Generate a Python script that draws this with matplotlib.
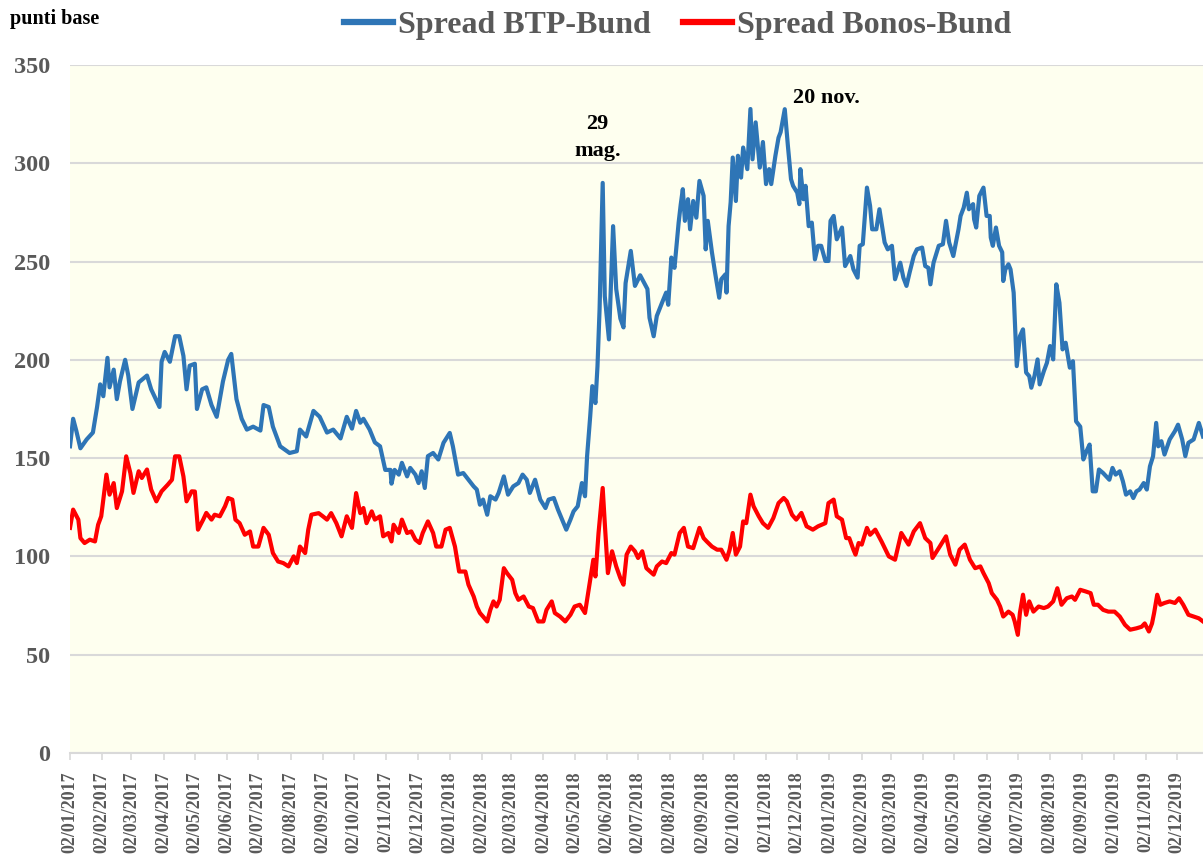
import pandas as pd
import matplotlib
matplotlib.use("Agg")
import matplotlib.pyplot as plt
import matplotlib.dates as mdates

# --- dati (punti base) ---
btp_dates = [
    "2017-01-02", "2017-01-05", "2017-01-08", "2017-01-12", "2017-01-18", "2017-01-24", "2017-01-28", "2017-01-31",
    "2017-02-03", "2017-02-07", "2017-02-09", "2017-02-13", "2017-02-16", "2017-02-19", "2017-02-24", "2017-02-27",
    "2017-03-03", "2017-03-09", "2017-03-17", "2017-03-21", "2017-03-29", "2017-03-31", "2017-04-03", "2017-04-08",
    "2017-04-13", "2017-04-17", "2017-04-21", "2017-04-24", "2017-04-27", "2017-05-02", "2017-05-04", "2017-05-09",
    "2017-05-13", "2017-05-18", "2017-05-23", "2017-05-29", "2017-06-03", "2017-06-06", "2017-06-11", "2017-06-16",
    "2017-06-21", "2017-06-27", "2017-07-04", "2017-07-07", "2017-07-12", "2017-07-16", "2017-07-23", "2017-08-01",
    "2017-08-08", "2017-08-11", "2017-08-17", "2017-08-24", "2017-08-30", "2017-09-06", "2017-09-12", "2017-09-19",
    "2017-09-25", "2017-09-30", "2017-10-04", "2017-10-08", "2017-10-11", "2017-10-17", "2017-10-22", "2017-10-27",
    "2017-11-01", "2017-11-06", "2017-11-07", "2017-11-10", "2017-11-14", "2017-11-17", "2017-11-22", "2017-11-25",
    "2017-11-30", "2017-12-03", "2017-12-06", "2017-12-09", "2017-12-12", "2017-12-17", "2017-12-22", "2017-12-27",
    "2018-01-02", "2018-01-05", "2018-01-10", "2018-01-15", "2018-01-20", "2018-01-25", "2018-01-28", "2018-01-31",
    "2018-02-03", "2018-02-07", "2018-02-10", "2018-02-15", "2018-02-18", "2018-02-23", "2018-02-27", "2018-03-04",
    "2018-03-09", "2018-03-13", "2018-03-17", "2018-03-20", "2018-03-25", "2018-03-30", "2018-04-04", "2018-04-07",
    "2018-04-12", "2018-04-16", "2018-04-20", "2018-04-24", "2018-04-28", "2018-05-01", "2018-05-05", "2018-05-09",
    "2018-05-12", "2018-05-14", "2018-05-17", "2018-05-19", "2018-05-22", "2018-05-24", "2018-05-26", "2018-05-29",
    "2018-05-31", "2018-06-04", "2018-06-08", "2018-06-11", "2018-06-15", "2018-06-18", "2018-06-20", "2018-06-25",
    "2018-06-29", "2018-07-04", "2018-07-11", "2018-07-13", "2018-07-17", "2018-07-20", "2018-07-25", "2018-07-29",
    "2018-07-31", "2018-08-03", "2018-08-06", "2018-08-10", "2018-08-12", "2018-08-14", "2018-08-16", "2018-08-19",
    "2018-08-21", "2018-08-24", "2018-08-27", "2018-08-30", "2018-09-03", "2018-09-05", "2018-09-07", "2018-09-11",
    "2018-09-14", "2018-09-18", "2018-09-20", "2018-09-24", "2018-09-25", "2018-09-27", "2018-09-29", "2018-10-01",
    "2018-10-04", "2018-10-06", "2018-10-09", "2018-10-11", "2018-10-15", "2018-10-18", "2018-10-20", "2018-10-23",
    "2018-10-27", "2018-10-30", "2018-11-02", "2018-11-05", "2018-11-07", "2018-11-11", "2018-11-14", "2018-11-16",
    "2018-11-20", "2018-11-23", "2018-11-26", "2018-11-28", "2018-12-02", "2018-12-04", "2018-12-05", "2018-12-08",
    "2018-12-10", "2018-12-13", "2018-12-16", "2018-12-19", "2018-12-22", "2018-12-25", "2018-12-29", "2019-01-01",
    "2019-01-03", "2019-01-06", "2019-01-09", "2019-01-14", "2019-01-17", "2019-01-22", "2019-01-25", "2019-01-29",
    "2019-01-31", "2019-02-03", "2019-02-07", "2019-02-10", "2019-02-12", "2019-02-16", "2019-02-19", "2019-02-24",
    "2019-02-27", "2019-03-03", "2019-03-06", "2019-03-11", "2019-03-14", "2019-03-17", "2019-03-20", "2019-03-24",
    "2019-03-27", "2019-04-01", "2019-04-04", "2019-04-07", "2019-04-09", "2019-04-12", "2019-04-17", "2019-04-21",
    "2019-04-24", "2019-04-27", "2019-05-01", "2019-05-06", "2019-05-08", "2019-05-11", "2019-05-14", "2019-05-16",
    "2019-05-20", "2019-05-21", "2019-05-23", "2019-05-26", "2019-05-30", "2019-06-02", "2019-06-05", "2019-06-06",
    "2019-06-08", "2019-06-11", "2019-06-14", "2019-06-17", "2019-06-18", "2019-06-20", "2019-06-23", "2019-06-25",
    "2019-06-28", "2019-07-01", "2019-07-04", "2019-07-07", "2019-07-10", "2019-07-13", "2019-07-15", "2019-07-18",
    "2019-07-21", "2019-07-23", "2019-07-27", "2019-07-30", "2019-08-02", "2019-08-05", "2019-08-08", "2019-08-11",
    "2019-08-14", "2019-08-17", "2019-08-21", "2019-08-24", "2019-08-27", "2019-08-31", "2019-09-03", "2019-09-06",
    "2019-09-09", "2019-09-12", "2019-09-15", "2019-09-18", "2019-09-22", "2019-09-25", "2019-09-28", "2019-10-01",
    "2019-10-04", "2019-10-08", "2019-10-11", "2019-10-14", "2019-10-18", "2019-10-21", "2019-10-24", "2019-10-27",
    "2019-10-31", "2019-11-03", "2019-11-06", "2019-11-09", "2019-11-12", "2019-11-14", "2019-11-17", "2019-11-20",
    "2019-11-25", "2019-11-30", "2019-12-03", "2019-12-07", "2019-12-10", "2019-12-13", "2019-12-18", "2019-12-23",
    "2019-12-27",
]
btp_values = [
    156, 170, 164, 155, 159.5, 163, 176, 187.5,
    181.5, 201, 186, 195, 180, 189, 200, 192,
    175, 188.5, 192, 185, 176, 199, 204, 199,
    212, 212, 202, 185, 197, 198, 175, 185,
    186, 177, 171, 189, 200, 203, 180, 170,
    164.5, 166, 164, 177, 176, 166, 156, 152.6,
    153.5, 164.5, 161, 174, 171, 163, 164.5, 160,
    171, 165, 174, 168, 170, 164.5, 158, 156,
    144, 144, 137, 144, 141.6, 147.6, 140.7, 145,
    141.6, 137.3, 143.3, 134.8, 151, 152.6, 149.3, 157.8,
    162.8, 156, 141.6, 142.4, 139, 135.6, 134, 126.3,
    128.9, 121.2, 130.6, 128.9, 132.3, 140.7, 131.4, 135.6,
    137.3, 141.6, 139, 132.3, 139, 128.9, 124.6, 128.9,
    129.7, 123.8, 118.7, 113.6, 118.7, 122.9, 125.5, 137.3,
    130.6, 151, 171.3, 186.6, 178, 196.8, 225.7, 290,
    232.4, 210.4, 268, 236, 221, 216.5, 239, 255.4,
    237.6, 243, 236, 221.4, 212, 222.3, 229, 234.2,
    228, 252, 246.8, 269.8, 279, 286.8, 270.7, 281.7,
    266.4, 280.8, 272.3, 291, 283.4, 256.2, 270.7, 254.7,
    244.4, 231.6, 241, 243.5, 234.2, 268, 280.2, 302.9,
    280.8, 303.8, 292.7, 308, 297, 327.6, 302, 320.8,
    297.8, 310.8, 289.4, 297, 289.4, 303.8, 313, 315.8,
    327.5, 308.9, 291.9, 288.5, 285, 279.2, 297, 281.7,
    288.5, 268, 269.8, 251.1, 258, 258, 250.3, 250.3,
    270.7, 273.2, 261.3, 267.3, 247.7, 252.8, 246, 241.8,
    258, 258.8, 287.6, 278.3, 266.4, 266.4, 276.6, 259.7,
    256.2, 258, 241, 249.4, 241.8, 237.6, 244.4, 252.8,
    256.2, 257.1, 247.7, 246.8, 238.4, 249.4, 258, 258.8,
    270.7, 259.7, 252.8, 266.4, 273.2, 277.4, 285, 276.6,
    279.2, 271.5, 267.3, 283.4, 287.6, 273.2, 273.2, 262.2,
    258, 267.3, 258, 254.7, 240.1, 246, 248.6, 246,
    234.2, 196.8, 212, 215.5, 193.5, 191.7, 185.8, 191.7,
    200.2, 187.5, 194.2, 198.5, 207, 200.2, 238.4, 229,
    205.3, 208.7, 196, 199.3, 168.7, 166, 149.3, 153.5,
    156.9, 133.1, 133.1, 144.2, 142.4, 140.7, 139, 145,
    141.6, 143.3, 138.2, 131.4, 133.1, 129.7, 133.1, 134,
    137.3, 134, 145.8, 150.9, 167.9, 156, 158.6, 151.8,
    159.5, 163.7, 167, 159.5, 151, 157.8, 159.5, 167.9,
    161,
]

bonos_dates = [
    "2017-01-02", "2017-01-05", "2017-01-10", "2017-01-12", "2017-01-16", "2017-01-21", "2017-01-26", "2017-01-29",
    "2017-02-01", "2017-02-06", "2017-02-09", "2017-02-13", "2017-02-16", "2017-02-21", "2017-02-25", "2017-03-01",
    "2017-03-04", "2017-03-09", "2017-03-12", "2017-03-17", "2017-03-21", "2017-03-26", "2017-03-31", "2017-04-06",
    "2017-04-10", "2017-04-13", "2017-04-17", "2017-04-21", "2017-04-24", "2017-04-29", "2017-05-02", "2017-05-05",
    "2017-05-10", "2017-05-13", "2017-05-18", "2017-05-21", "2017-05-26", "2017-05-31", "2017-06-03", "2017-06-07",
    "2017-06-10", "2017-06-14", "2017-06-19", "2017-06-24", "2017-06-27", "2017-07-02", "2017-07-07", "2017-07-12",
    "2017-07-16", "2017-07-21", "2017-07-26", "2017-07-31", "2017-08-05", "2017-08-08", "2017-08-11", "2017-08-16",
    "2017-08-19", "2017-08-22", "2017-08-29", "2017-09-02", "2017-09-06", "2017-09-10", "2017-09-15", "2017-09-20",
    "2017-09-25", "2017-09-30", "2017-10-04", "2017-10-08", "2017-10-11", "2017-10-14", "2017-10-19", "2017-10-22",
    "2017-10-27", "2017-10-30", "2017-11-04", "2017-11-07", "2017-11-09", "2017-11-14", "2017-11-17", "2017-11-22",
    "2017-11-26", "2017-11-30", "2017-12-04", "2017-12-07", "2017-12-12", "2017-12-17", "2017-12-20", "2017-12-25",
    "2017-12-29", "2018-01-02", "2018-01-07", "2018-01-11", "2018-01-17", "2018-01-20", "2018-01-25", "2018-01-28",
    "2018-01-31", "2018-02-03", "2018-02-07", "2018-02-10", "2018-02-13", "2018-02-16", "2018-02-19", "2018-02-23",
    "2018-02-26", "2018-03-03", "2018-03-06", "2018-03-09", "2018-03-14", "2018-03-19", "2018-03-23", "2018-03-28",
    "2018-04-02", "2018-04-05", "2018-04-10", "2018-04-13", "2018-04-18", "2018-04-23", "2018-04-28", "2018-05-02",
    "2018-05-07", "2018-05-12", "2018-05-15", "2018-05-18", "2018-05-20", "2018-05-22", "2018-05-25", "2018-05-29",
    "2018-05-31", "2018-06-03", "2018-06-07", "2018-06-11", "2018-06-15", "2018-06-18", "2018-06-21", "2018-06-25",
    "2018-06-29", "2018-07-02", "2018-07-06", "2018-07-10", "2018-07-17", "2018-07-20", "2018-07-25", "2018-07-29",
    "2018-08-03", "2018-08-06", "2018-08-11", "2018-08-15", "2018-08-19", "2018-08-24", "2018-08-30", "2018-09-03",
    "2018-09-06", "2018-09-11", "2018-09-16", "2018-09-20", "2018-09-25", "2018-09-28", "2018-10-01", "2018-10-04",
    "2018-10-08", "2018-10-11", "2018-10-14", "2018-10-18", "2018-10-21", "2018-10-26", "2018-10-30", "2018-11-04",
    "2018-11-09", "2018-11-14", "2018-11-19", "2018-11-22", "2018-11-27", "2018-12-01", "2018-12-06", "2018-12-11",
    "2018-12-17", "2018-12-22", "2018-12-29", "2019-01-01", "2019-01-06", "2019-01-09", "2019-01-14", "2019-01-18",
    "2019-01-21", "2019-01-25", "2019-01-27", "2019-01-30", "2019-02-02", "2019-02-07", "2019-02-10", "2019-02-15",
    "2019-02-21", "2019-02-28", "2019-03-06", "2019-03-12", "2019-03-19", "2019-03-24", "2019-03-30", "2019-04-04",
    "2019-04-09", "2019-04-11", "2019-04-17", "2019-04-24", "2019-04-28", "2019-05-03", "2019-05-07", "2019-05-12",
    "2019-05-17", "2019-05-22", "2019-05-27", "2019-05-30", "2019-06-04", "2019-06-07", "2019-06-12", "2019-06-15",
    "2019-06-18", "2019-06-23", "2019-06-27", "2019-06-29", "2019-07-02", "2019-07-04", "2019-07-07", "2019-07-10",
    "2019-07-13", "2019-07-17", "2019-07-22", "2019-07-27", "2019-07-31", "2019-08-05", "2019-08-09", "2019-08-13",
    "2019-08-18", "2019-08-23", "2019-08-26", "2019-08-31", "2019-09-05", "2019-09-10", "2019-09-13", "2019-09-17",
    "2019-09-22", "2019-09-27", "2019-10-03", "2019-10-08", "2019-10-13", "2019-10-18", "2019-10-24", "2019-10-29",
    "2019-11-01", "2019-11-05", "2019-11-08", "2019-11-10", "2019-11-13", "2019-11-16", "2019-11-20", "2019-11-25",
    "2019-11-30", "2019-12-04", "2019-12-08", "2019-12-13", "2019-12-18", "2019-12-23", "2019-12-27",
]
bonos_values = [
    114.5, 123.8, 118.7, 109.3, 106.8, 108.5, 107.6, 116.1,
    120.4, 141.6, 131.4, 137.3, 124.6, 133.1, 150.9, 142.4,
    132.3, 143.3, 139.9, 144.2, 134, 128, 133.1, 136.5,
    139, 150.9, 150.9, 140.7, 128, 133.1, 133, 113.6,
    118.7, 122.1, 118.7, 121.2, 120.4, 125.5, 129.7, 128.9,
    118.7, 116.9, 111, 112.7, 105, 105, 114.5, 111,
    101.7, 97.4, 96.6, 94.9, 100, 96.6, 105, 101.7,
    113.6, 121.2, 122, 120.4, 118.7, 122, 116.9, 110.2,
    120.4, 114.5, 132.2, 122, 124.6, 116.9, 122.9, 118.7,
    120.4, 110.2, 111.9, 107.6, 116.1, 111.9, 118.7, 111.9,
    112.7, 108.5, 106.8, 111.9, 117.8, 111.9, 105, 105,
    113.6, 114.5, 105, 92.3, 92.3, 85.6, 79.6, 74.5,
    71.2, 69.4, 66.9, 72.8, 77.1, 74.5, 77.9, 94,
    91.5, 88.1, 81.3, 77.9, 79.6, 74.5, 73.7, 66.9,
    66.9, 72.8, 77.1, 71.2, 69.4, 66.9, 70.3, 74.5,
    75.4, 71.2, 81.3, 91.5, 98.3, 89.8, 111.9, 134.8,
    116.9, 91.5, 102.6, 94.9, 88.9, 85.6, 100.9, 105,
    102.6, 99.2, 102.6, 94, 90.7, 94.9, 97.4, 96.6,
    101.7, 100.9, 111.9, 114.5, 105, 104.2, 114.5, 109.3,
    107.6, 105, 103.4, 103.4, 98.3, 103.4, 111.9, 100.9,
    105, 117.8, 116.9, 131.4, 125.5, 120.4, 116.9, 114.5,
    119.5, 127.1, 129.7, 128, 121.2, 118.7, 122.1, 115.3,
    113.6, 115.3, 116.9, 127.1, 128.9, 120.4, 118.7, 109.3,
    109.3, 103.4, 100.9, 106.8, 106, 114.5, 111, 113.6,
    107.6, 100, 98.3, 111.9, 106, 112.7, 116.9, 109.3,
    106.8, 99.2, 104.2, 110.2, 100.9, 95.8, 103.4, 106,
    98.3, 94, 94.9, 91.5, 86.4, 81.3, 77.9, 74.5,
    69.4, 71.9, 70.3, 66.9, 60.1, 71.2, 80.5, 70.3,
    77.1, 71.9, 74.5, 73.7, 74.5, 77.1, 83.8, 75.4,
    78.7, 79.6, 77.9, 83, 82.2, 81.3, 75.4, 75.4,
    72.8, 71.9, 71.9, 69.4, 65.2, 62.7, 63.4, 64.2,
    65.9, 61.8, 65.9, 71.2, 80.5, 75.4, 76.3, 77.1,
    76.3, 78.7, 75.4, 70.3, 69.4, 68.5, 66.9,
]

y_ticks = [0, 50, 100, 150, 200, 250, 300, 350]

SERIF = ["Liberation Serif", "DejaVu Serif"]
GREY_TXT = "#595959"
GRID = "#D9D9D9"

btp_x = pd.to_datetime(btp_dates)
bonos_x = pd.to_datetime(bonos_dates)

fig = plt.figure(figsize=(12.03, 8.57), dpi=100)
ax = fig.add_axes([0.0582, 0.1214, 0.9418, 0.8028])
ax.set_facecolor("#FEFFEF")

ax.plot(btp_x, btp_values, color="#2E75B6", lw=3.0, label="Spread BTP-Bund",
        solid_joinstyle="round", zorder=3)
ax.plot(bonos_x, bonos_values, color="#FF0000", lw=3.0, label="Spread Bonos-Bund",
        solid_joinstyle="round", zorder=4)

ax.set_ylim(0, 350)
ax.set_yticks(y_ticks)
ax.set_xlim(btp_x[0], btp_x[-1])
ax.xaxis.set_major_locator(mdates.MonthLocator(bymonthday=2))
ax.xaxis.set_major_formatter(mdates.DateFormatter("%d/%m/%Y"))

ax.grid(axis="y", color=GRID, lw=1.5, zorder=1)
ax.set_axisbelow(True)
for s in ["top", "right", "left"]:
    ax.spines[s].set_visible(False)
ax.spines["bottom"].set_color(GRID)
ax.spines["bottom"].set_linewidth(1.5)

ax.tick_params(axis="y", length=0, pad=14)
ax.tick_params(axis="x", length=5, width=1.2, color=GRID, pad=8, rotation=90)
for lab in ax.get_yticklabels():
    lab.set_fontfamily(SERIF)
    lab.set_fontweight("bold")
    lab.set_fontsize(17.5)
    lab.set_color(GREY_TXT)
for lab in ax.get_xticklabels():
    lab.set_fontfamily(SERIF)
    lab.set_fontweight("bold")
    lab.set_fontsize(13)
    lab.set_color(GREY_TXT)

# annotazioni
ax.text(pd.Timestamp("2018-05-24"), 313, "29\nmag.", ha="center", va="center",
        family=SERIF, fontweight="bold", fontsize=16, linespacing=1.5, zorder=5)
ax.text(pd.Timestamp("2018-12-30"), 333, "20 nov.", ha="center", va="center",
        family=SERIF, fontweight="bold", fontsize=16, zorder=5)

fig.text(0.008, 0.978, "punti base", ha="left", va="center",
         family=SERIF, fontweight="bold", fontsize=14.5)

leg = fig.legend(loc="center", bbox_to_anchor=(0.563, 0.970), ncol=2, frameon=False,
                 handlelength=1.55, handletextpad=0.15, columnspacing=1.0,
                 prop={"family": SERIF, "weight": "bold", "size": 23})
for t in leg.get_texts():
    t.set_color(GREY_TXT)
for h in leg.get_lines():
    h.set_linewidth(4.5)

fig.savefig("out.png", dpi=100, facecolor="white")
